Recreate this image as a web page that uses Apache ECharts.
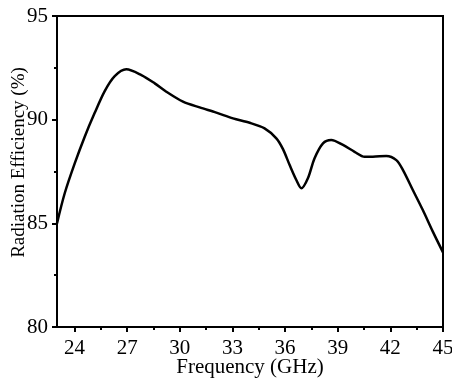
<!DOCTYPE html>
<html><head><meta charset="utf-8">
<script src="https://cdn.jsdelivr.net/npm/echarts@6/dist/echarts.min.js"></script>
<style>html,body{margin:0;padding:0;background:#fff}#c{width:452px;height:380px}</style>
</head><body><div id="c"></div>
<script>
var freq = [23, 23.44, 24.01, 24.58, 25.15, 25.72, 26.29, 26.95, 27.81, 28.57, 29.23, 30.18, 31.13, 32.08, 33.03, 33.98, 34.83, 35.5, 35.88, 36.26, 36.64, 36.93, 37.3, 37.68, 38.16, 38.63, 39.3, 39.96, 40.53, 41.0, 41.77, 42.34, 42.72, 43.28, 43.85, 44.42, 45];
var efficiency = [85.0, 86.45, 87.89, 89.18, 90.33, 91.38, 92.1, 92.43, 92.15, 91.75, 91.35, 90.87, 90.59, 90.34, 90.06, 89.85, 89.58, 89.1, 88.58, 87.81, 87.09, 86.69, 87.17, 88.14, 88.86, 89.02, 88.78, 88.45, 88.21, 88.21, 88.25, 88.05, 87.57, 86.61, 85.64, 84.6, 83.6];
var xTicks = [24, 27, 30, 33, 36, 39, 42, 45];
var xMinorTicks = [25.5, 28.5, 31.5, 34.5, 37.5, 40.5, 43.5];
var yTicks = [80, 85, 90, 95];

var font = 'Liberation Serif';
var chart = echarts.init(document.getElementById('c'));
chart.setOption({
  animation: false,
  grid: {left: 57, right: 9, top: 16, bottom: 53, containLabel: false, outerBoundsMode: 'none',
         show: true, borderColor: '#000', borderWidth: 2},
  xAxis: [{
    type: 'value', min: 23, max: 45,
    name: 'Frequency (GHz)', nameLocation: 'middle', nameGap: 30, nameMoveOverlap: false,
    nameTextStyle: {fontFamily: font, fontSize: 21, color: '#000'},
    axisLine: {show: true, lineStyle: {color: '#000', width: 2}},
    axisTick: {show: true, customValues: xTicks, length: 5, lineStyle: {color: '#000', width: 2}},
    axisLabel: {customValues: xTicks, fontFamily: font, fontSize: 21, color: '#000', margin: 11},
    splitLine: {show: false}
  }, {
    type: 'value', min: 23, max: 45, position: 'bottom',
    axisLine: {show: false},
    axisTick: {show: true, customValues: xMinorTicks, length: 3, lineStyle: {color: '#000', width: 2}},
    axisLabel: {show: false},
    splitLine: {show: false}
  }],
  yAxis: {
    type: 'value', min: 80, max: 95, interval: 5,
    name: 'Radiation Efficiency (%)', nameLocation: 'middle', nameGap: 28, nameMoveOverlap: false,
    nameTextStyle: {fontFamily: font, fontSize: 19, color: '#000', padding: [0, 0, 0, 18]},
    axisLine: {show: true, lineStyle: {color: '#000', width: 2}},
    axisTick: {show: true, length: 5, lineStyle: {color: '#000', width: 2}},
    minorTick: {show: true, splitNumber: 2, length: 3, lineStyle: {color: '#000', width: 2}},
    axisLabel: {fontFamily: font, fontSize: 21, color: '#000', margin: 9},
    splitLine: {show: false}
  },
  series: [{
    type: 'line', xAxisIndex: 0, smooth: 0.3, showSymbol: false,
    data: freq.map(function (f, i) { return [f, efficiency[i]]; }),
    lineStyle: {color: '#000', width: 2.5}
  }]
});
</script></body></html>
